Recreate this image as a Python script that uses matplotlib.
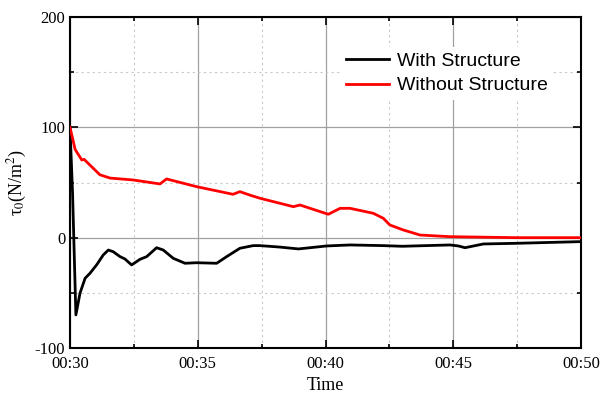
import matplotlib
matplotlib.use('Agg')
import matplotlib.pyplot as plt
from matplotlib.ticker import MultipleLocator

# time in minutes after 00:00
t_with = [30.0, 30.1, 30.23, 30.39, 30.59, 30.78, 31.04, 31.3, 31.5, 31.69, 31.96,
          32.15, 32.41, 32.74, 33.0, 33.39, 33.65, 34.04, 34.5, 34.96, 35.74,
          36.13, 36.65, 37.17, 37.44, 38.2, 38.94, 40.05, 40.96, 42.26, 43.0,
          44.87, 45.2, 45.46, 46.18, 47.48, 49.96, 50.0]
v_with = [100, 40, -70, -50.4, -36.8, -32.3, -24.7, -15.7, -11.2, -12.7, -17.2,
          -19.3, -24.7, -19.6, -17.2, -9.1, -11.2, -18.7, -23.2, -22.7, -23.2,
          -17.2, -9.6, -7.2, -7.2, -8.5, -10.2, -7.5, -6.6, -7.2, -7.8,
          -6.6, -7.5, -9.1, -5.7, -5.1, -3.6, -3.6]

t_without = [30.0, 30.2, 30.46, 30.55, 31.17, 31.57, 32.47, 33.52, 33.78, 34.96,
             36.38, 36.65, 37.05, 37.44, 38.74, 39.0, 40.11, 40.57, 40.96, 41.87,
             42.26, 42.52, 43.04, 43.7, 44.87, 47.48, 50.0]
v_without = [100, 80, 70.4, 71, 57, 54, 52.3, 48.7, 53.2, 46.2,
             39.3, 41.7, 38.5, 35.7, 28.1, 29.6, 21.2, 26.6, 26.6, 22.1,
             17.6, 11.5, 7.0, 2.4, 0.9, 0, 0]

x_ticks = [30, 35, 40, 45, 50]
x_labels = ['00:30', '00:35', '00:40', '00:45', '00:50']
y_ticks = [-100, 0, 100, 200]

plt.rcParams['mathtext.fontset'] = 'stix'
plt.rcParams['axes.unicode_minus'] = False

fig = plt.figure(figsize=(6.02, 3.98), dpi=100)
ax = fig.add_axes([0.1163, 0.1256, 0.8488, 0.8317])

ax.plot(t_with, v_with, color='black', lw=2, label='With Structure', zorder=3)
ax.plot(t_without, v_without, color='red', lw=2, label='Without Structure', zorder=3)

ax.set_xlim(30, 50)
ax.set_ylim(-100, 200)
ax.set_xticks(x_ticks)
ax.set_xticklabels(x_labels)
ax.set_yticks(y_ticks)
ax.xaxis.set_minor_locator(MultipleLocator(2.5))
ax.yaxis.set_minor_locator(MultipleLocator(50))

ax.grid(which='major', color='#a0a0a0', lw=0.9, ls='-')
ax.grid(which='minor', color='#c8c8c8', lw=0.8, ls=(0, (2, 3)))
ax.set_axisbelow(True)

ax.tick_params(which='both', direction='in', top=True, right=True,
               labelsize=12, width=1.2)
ax.tick_params(which='major', length=6)
ax.tick_params(which='minor', length=3)
ax.tick_params(axis='x', pad=6)
for lab in ax.get_xticklabels() + ax.get_yticklabels():
    lab.set_family('Liberation Serif')
for s in ax.spines.values():
    s.set_linewidth(1.5)

ax.set_xlabel('Time', family='Liberation Serif', fontsize=13, labelpad=3)
ax.set_ylabel('τ$_0$(N/m$^2$)', family='Liberation Serif', fontsize=13, labelpad=4)

leg = ax.legend(loc='upper left', bbox_to_anchor=(0.51, 0.94), frameon=True,
                fancybox=False, edgecolor='none', framealpha=1,
                prop={'family': 'Liberation Sans', 'size': 14},
                handlelength=2.2, handletextpad=0.4, borderpad=0.3, labelspacing=0.35)

fig.savefig('out.png', dpi=100)
